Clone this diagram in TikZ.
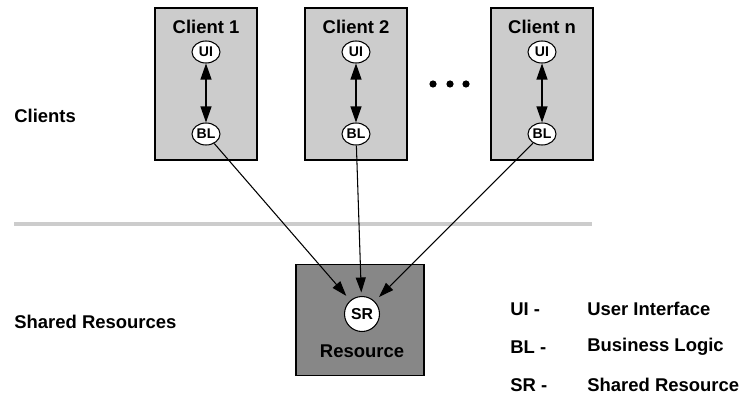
\documentclass[tikz,border=0pt]{standalone}
\usepackage{fontspec}
\setmainfont{Liberation Sans}
\usetikzlibrary{arrows.meta}
\usetikzlibrary{shapes.geometric}
\usetikzlibrary{positioning}

\begin{document}
\begin{tikzpicture}[x=0.02cm, y=-0.02cm,
    font=\bfseries\fontsize{10.5}{12}\selectfont,
    clientbox/.style={draw, line width=0.6pt, fill=black!20, minimum width=2.04cm, minimum height=3.04cm},
    resbox/.style={draw, line width=0.6pt, fill=black!47, minimum width=2.56cm, minimum height=2.22cm},
    part/.style={draw, ellipse, line width=0.6pt, fill=white, inner sep=0pt, minimum width=0.56cm, minimum height=0.44cm, font=\bfseries\fontsize{8}{9}\selectfont},
    link/.style={line width=0.6pt, -{Triangle[length=0.3cm, width=0.2cm]}},
    both/.style={line width=0.6pt, {Triangle[length=0.32cm, width=0.22cm]}-{Triangle[length=0.32cm, width=0.22cm]}},
    label/.style={anchor=west, inner sep=0pt}]
    \useasboundingbox (0, 0) rectangle (743, 402);

    % clients
    \node [clientbox] (c1) at (206, 84) {};
    \node [clientbox] (c2) at (356, 84) {};
    \node [clientbox] (cn) at (542, 84) {};
    \node (l1) at (206, 27) {Client 1};
    \node (l2) at (356, 27) {Client 2};
    \node (ln) at (542, 27) {Client n};
    \foreach \c/\x in {1/206, 2/356, n/542} {
      \node [part] (ui\c) at (\x, 52) {UI};
      \node [part] (bl\c) at (\x, 134) {BL};
      \draw [both] (ui\c) -- (bl\c);
    }
    \foreach \x in {433, 450, 466}
      \fill (\x, 84) circle (3.6);

    % divider
    \draw [black!20, line width=2.4pt] (14, 224) -- (592, 224);

    % shared resource
    \node [resbox] (res) at (360, 320) {};
    \node [part, circle, minimum size=0.7cm, font=\bfseries\fontsize{9}{10}\selectfont] (sr) at (362, 314) {SR};
    \node (rlabel) at (362, 351) {Resource};
    \draw [link, shorten >=0.12cm] (bl1) -- (sr);
    \draw [link, shorten >=0.07cm] (bl2) -- (sr);
    \draw [link, shorten >=0.12cm] (bln) -- (sr);

    % left labels
    \node [label] (clients) at (14, 116) {Clients};
    \node [label] (shared) at (14, 322) {Shared Resources};

    % legend
    \node [label] (k1) at (510, 309) {UI -};
    \node [label] (k2) at (510, 347) {BL -};
    \node [label] (k3) at (510, 385) {SR -};
    \node [label] (v1) at (587, 309) {User Interface};
    \node [label] (v2) at (587, 347) {Business Logic};
    \node [label] (v3) at (587, 385) {Shared Resource};
\end{tikzpicture}
\end{document}
